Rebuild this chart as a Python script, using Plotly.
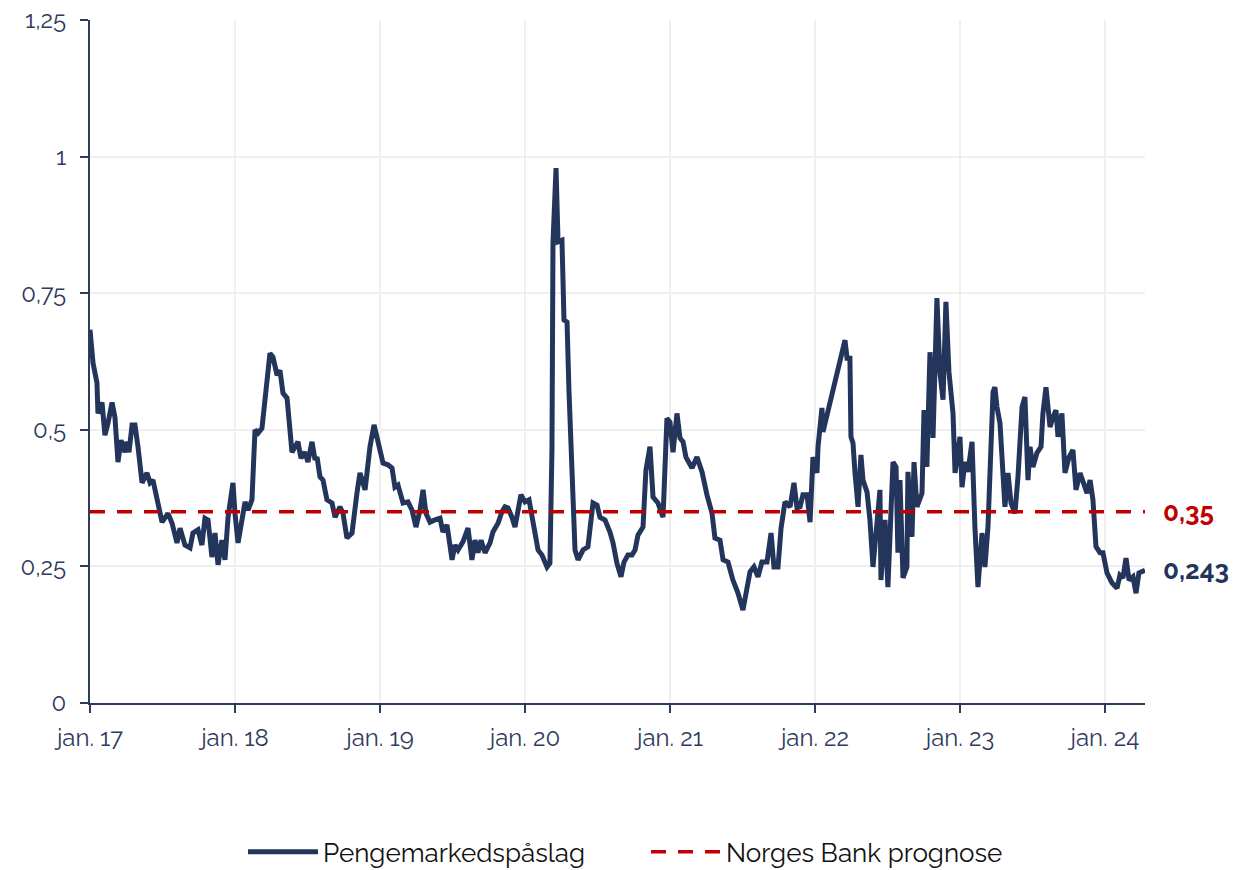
"""Pengemarkedspåslag vs. Norges Bank prognose, 2017-2024."""
import pandas as pd
import plotly.graph_objects as go

# time as decimal years
years = [
  2017.000, 2017.021, 2017.048, 2017.055, 2017.083, 2017.103, 2017.124, 2017.152,
  2017.172, 2017.193, 2017.214, 2017.241, 2017.255, 2017.269, 2017.290, 2017.310,
  2017.331, 2017.359, 2017.393, 2017.414, 2017.434, 2017.462, 2017.497, 2017.538,
  2017.566, 2017.600, 2017.621, 2017.655, 2017.690, 2017.710, 2017.745, 2017.772,
  2017.793, 2017.814, 2017.841, 2017.862, 2017.883, 2017.910, 2017.931, 2017.952,
  2017.986, 2018.000, 2018.021, 2018.048, 2018.069, 2018.090, 2018.117, 2018.138,
  2018.159, 2018.186, 2018.207, 2018.241, 2018.262, 2018.290, 2018.310, 2018.331,
  2018.359, 2018.393, 2018.434, 2018.455, 2018.483, 2018.503, 2018.531, 2018.552,
  2018.566, 2018.586, 2018.607, 2018.634, 2018.669, 2018.690, 2018.724, 2018.745,
  2018.772, 2018.807, 2018.841, 2018.862, 2018.897, 2018.931, 2018.959, 2018.986,
  2019.021, 2019.055, 2019.083, 2019.103, 2019.124, 2019.159, 2019.193, 2019.221,
  2019.248, 2019.276, 2019.297, 2019.317, 2019.345, 2019.379, 2019.414, 2019.434,
  2019.462, 2019.497, 2019.517, 2019.538, 2019.572, 2019.607, 2019.634, 2019.655,
  2019.676, 2019.697, 2019.724, 2019.759, 2019.779, 2019.814, 2019.841, 2019.862,
  2019.883, 2019.910, 2019.931, 2019.972, 2020.000, 2020.028, 2020.055, 2020.090,
  2020.117, 2020.152, 2020.172, 2020.186, 2020.193, 2020.214, 2020.228, 2020.255,
  2020.269, 2020.290, 2020.303, 2020.324, 2020.345, 2020.366, 2020.400, 2020.434,
  2020.469, 2020.497, 2020.517, 2020.552, 2020.586, 2020.607, 2020.634, 2020.662,
  2020.683, 2020.710, 2020.738, 2020.759, 2020.779, 2020.814, 2020.834, 2020.862,
  2020.883, 2020.917, 2020.952, 2020.979, 2021.000, 2021.021, 2021.048, 2021.069,
  2021.090, 2021.110, 2021.152, 2021.186, 2021.221, 2021.255, 2021.290, 2021.310,
  2021.345, 2021.366, 2021.400, 2021.434, 2021.469, 2021.503, 2021.531, 2021.552,
  2021.579, 2021.607, 2021.634, 2021.669, 2021.697, 2021.717, 2021.745, 2021.766,
  2021.793, 2021.828, 2021.855, 2021.876, 2021.897, 2021.917, 2021.945, 2021.966,
  2021.986, 2022.014, 2022.021, 2022.048, 2022.055, 2022.207, 2022.221, 2022.241,
  2022.248, 2022.262, 2022.276, 2022.297, 2022.317, 2022.331, 2022.359, 2022.379,
  2022.400, 2022.428, 2022.448, 2022.455, 2022.483, 2022.503, 2022.538, 2022.559,
  2022.572, 2022.586, 2022.607, 2022.634, 2022.641, 2022.669, 2022.683, 2022.703,
  2022.738, 2022.752, 2022.772, 2022.793, 2022.814, 2022.841, 2022.862, 2022.883,
  2022.903, 2022.924, 2022.952, 2022.966, 2023.000, 2023.014, 2023.034, 2023.055,
  2023.083, 2023.103, 2023.124, 2023.152, 2023.172, 2023.193, 2023.214, 2023.228,
  2023.241, 2023.255, 2023.276, 2023.297, 2023.310, 2023.331, 2023.352, 2023.379,
  2023.400, 2023.428, 2023.448, 2023.469, 2023.483, 2023.503, 2023.531, 2023.559,
  2023.572, 2023.593, 2023.621, 2023.641, 2023.662, 2023.676, 2023.703, 2023.724,
  2023.752, 2023.779, 2023.800, 2023.828, 2023.848, 2023.876, 2023.897, 2023.917,
  2023.938, 2023.966, 2023.986, 2024.014, 2024.048, 2024.083, 2024.103, 2024.124,
  2024.145, 2024.166, 2024.193, 2024.214, 2024.234, 2024.262, 2024.276,
]

# pengemarkedspåslag, percentage points
spread = [
  0.683, 0.622, 0.586, 0.530, 0.550, 0.490, 0.512, 0.550,
  0.523, 0.441, 0.481, 0.459, 0.478, 0.459, 0.509, 0.509,
  0.469, 0.403, 0.421, 0.403, 0.408, 0.377, 0.331, 0.347,
  0.329, 0.293, 0.320, 0.289, 0.284, 0.311, 0.317, 0.289,
  0.338, 0.335, 0.267, 0.311, 0.253, 0.298, 0.262, 0.340,
  0.403, 0.347, 0.293, 0.335, 0.368, 0.353, 0.372, 0.500,
  0.494, 0.503, 0.560, 0.640, 0.633, 0.600, 0.609, 0.567,
  0.558, 0.459, 0.478, 0.448, 0.459, 0.441, 0.478, 0.445,
  0.450, 0.414, 0.408, 0.372, 0.366, 0.340, 0.359, 0.347,
  0.302, 0.311, 0.384, 0.421, 0.390, 0.469, 0.509, 0.481,
  0.439, 0.436, 0.430, 0.395, 0.399, 0.366, 0.368, 0.353,
  0.322, 0.353, 0.390, 0.347, 0.331, 0.335, 0.338, 0.313,
  0.326, 0.262, 0.289, 0.280, 0.295, 0.320, 0.262, 0.298,
  0.275, 0.298, 0.275, 0.293, 0.313, 0.329, 0.350, 0.359,
  0.357, 0.340, 0.322, 0.381, 0.368, 0.372, 0.331, 0.280,
  0.271, 0.249, 0.256, 0.463, 0.842, 0.979, 0.844, 0.847,
  0.701, 0.697, 0.573, 0.414, 0.280, 0.262, 0.280, 0.286,
  0.366, 0.362, 0.340, 0.335, 0.313, 0.293, 0.256, 0.231,
  0.258, 0.271, 0.271, 0.280, 0.307, 0.322, 0.426, 0.469,
  0.377, 0.366, 0.340, 0.521, 0.514, 0.459, 0.530, 0.485,
  0.478, 0.450, 0.430, 0.450, 0.423, 0.381, 0.347, 0.302,
  0.298, 0.262, 0.258, 0.225, 0.201, 0.170, 0.207, 0.240,
  0.249, 0.231, 0.258, 0.258, 0.311, 0.249, 0.249, 0.320,
  0.368, 0.359, 0.403, 0.357, 0.359, 0.381, 0.381, 0.331,
  0.450, 0.421, 0.469, 0.540, 0.496, 0.664, 0.631, 0.631,
  0.487, 0.476, 0.421, 0.359, 0.454, 0.408, 0.386, 0.335,
  0.249, 0.347, 0.390, 0.225, 0.335, 0.212, 0.441, 0.432,
  0.275, 0.408, 0.229, 0.249, 0.423, 0.304, 0.441, 0.359,
  0.384, 0.536, 0.432, 0.642, 0.485, 0.741, 0.604, 0.555,
  0.734, 0.606, 0.530, 0.421, 0.487, 0.395, 0.441, 0.423,
  0.478, 0.322, 0.212, 0.311, 0.249, 0.322, 0.445, 0.569,
  0.578, 0.542, 0.512, 0.426, 0.359, 0.421, 0.366, 0.347,
  0.414, 0.542, 0.560, 0.408, 0.469, 0.432, 0.458, 0.469,
  0.530, 0.578, 0.505, 0.523, 0.536, 0.487, 0.530, 0.421,
  0.450, 0.463, 0.390, 0.421, 0.408, 0.384, 0.408, 0.372,
  0.286, 0.275, 0.275, 0.238, 0.220, 0.210, 0.234, 0.229,
  0.265, 0.225, 0.231, 0.201, 0.238, 0.240, 0.243,
]

nb_prognose = 0.35

tick_years = [2017, 2018, 2019, 2020, 2021, 2022, 2023, 2024]
tick_labels = ['jan. 17', 'jan. 18', 'jan. 19', 'jan. 20',
               'jan. 21', 'jan. 22', 'jan. 23', 'jan. 24']

NAVY = '#24355c'
RED = '#c00000'
AXIS = '#2e3b5e'
FONT = 'Raleway, Lato, sans-serif'

def to_dates(yrs):
  start = pd.Timestamp('2017-01-01')
  return [start + pd.to_timedelta((y - 2017) * 365.25, unit='D') for y in yrs]

dates = to_dates(years)
x_range = [dates[0], dates[-1]]

fig = go.Figure()

fig.add_trace(go.Scatter(
  x=dates,
  y=spread,
  mode='lines',
  name='Pengemarkedspåslag',
  line=dict(color=NAVY, width=5),
))

fig.add_trace(go.Scatter(
  x=x_range,
  y=[nb_prognose, nb_prognose],
  mode='lines',
  name='Norges Bank prognose',
  line=dict(color=RED, width=3.5, dash='15px,12px'),
))

# end labels to the right of the plot
fig.add_annotation(
  x=1, xref='paper', y=nb_prognose, yref='y',
  text=f'<b>{nb_prognose:.2f}</b>'.replace('.', ','),
  xanchor='left', xshift=16, showarrow=False,
  font=dict(color=RED, size=26, family=FONT),
)
fig.add_annotation(
  x=1, xref='paper', y=spread[-1], yref='y',
  text=f'<b>{spread[-1]:.3f}</b>'.replace('.', ','),
  xanchor='left', xshift=16, showarrow=False,
  font=dict(color=NAVY, size=26, family=FONT),
)

fig.update_layout(
  width=1236,
  height=870,
  margin=dict(l=90, r=91, t=20, b=167, autoexpand=False),
  plot_bgcolor='white',
  paper_bgcolor='white',
  separators=', ',
  font=dict(family=FONT, color=AXIS, size=24),
  showlegend=True,
  legend=dict(
    orientation='h',
    x=0.527, xanchor='center',
    y=-0.218, yanchor='middle',
    font=dict(size=26, color='#111111'),
    itemwidth=70,
    entrywidth=318,
    tracegroupgap=0,
  ),
)

fig.update_xaxes(
  type='date',
  range=x_range,
  tickvals=to_dates(tick_years),
  ticktext=tick_labels,
  tickfont=dict(size=24),
  automargin=False,
  showgrid=True,
  gridcolor='#efefef',
  gridwidth=2,
  showline=True,
  linecolor=AXIS,
  linewidth=2,
  ticks='outside',
  ticklen=8,
  tickwidth=2,
  tickcolor=AXIS,
  ticklabelstandoff=4,
  zeroline=False,
)

fig.update_yaxes(
  range=[0, 1.25],
  dtick=0.25,
  tick0=0,
  tickfont=dict(size=24),
  automargin=False,
  showgrid=True,
  gridcolor='#efefef',
  gridwidth=2,
  showline=True,
  linecolor=AXIS,
  linewidth=2,
  ticks='outside',
  ticklen=8,
  tickwidth=2,
  tickcolor=AXIS,
  ticklabelstandoff=9,
  zeroline=False,
)

# the page body has a default 8px margin; drop it so the figure fills the window
fig.write_html(
  'out.html',
  config={'displayModeBar': False},
  post_script="document.body.style.margin='0';",
)
